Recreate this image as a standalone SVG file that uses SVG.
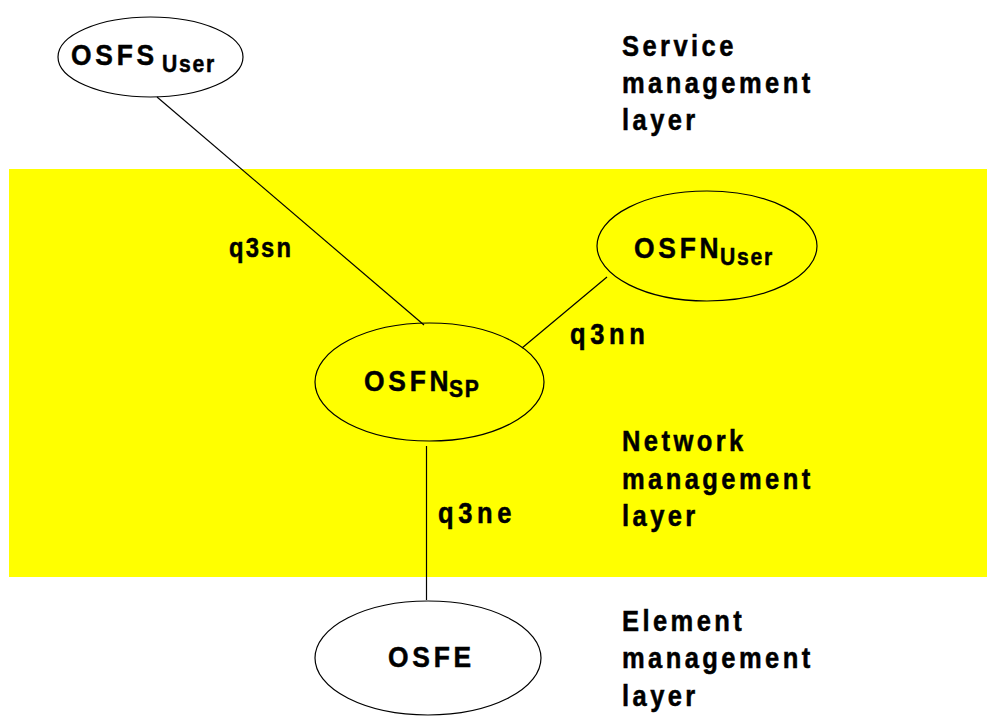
<svg xmlns="http://www.w3.org/2000/svg" width="987" height="718" viewBox="0 0 987 718">
<style>
  .bg { fill: #ffffff; }
  .band { fill: #ffff00; stroke: none; }
  .node { fill: none; stroke: #000; stroke-width: 1.2; }
  .edge { stroke: #000; stroke-width: 1.2; fill: none; }
  text { font-family: "Liberation Sans", Arial, sans-serif; font-weight: bold; fill: #000; stroke: #000; stroke-width: 0.5px; }
  .nm { font-size: 30px; letter-spacing: 4.3px; }
  .sub { font-size: 24px; letter-spacing: 2px; }
  .lbl { font-size: 27px; letter-spacing: 2.5px; }
  .lbl2 { font-size: 29px; letter-spacing: 5.3px; }
  .layer { font-size: 29px; letter-spacing: 3.9px; }
</style>
<rect class="bg" x="0" y="0" width="987" height="718"/>
<rect class="band" x="9" y="169" width="978" height="408"/>

<g id="connectors">
  <line class="edge" x1="157" y1="97" x2="424" y2="325"/>
  <line class="edge" x1="607" y1="277" x2="522" y2="348"/>
  <line class="edge" x1="426.5" y1="446" x2="426.5" y2="600"/>
  <text class="lbl" transform="translate(229,257) scale(0.88,1)">q3sn</text>
  <text class="lbl2" transform="translate(570,344) scale(0.88,1)">q3nn</text>
  <text class="lbl2" transform="translate(438,523) scale(0.88,1)">q3ne</text>
</g>

<g id="node-osfs-user">
  <ellipse class="node" cx="150.5" cy="57" rx="92.5" ry="40"/>
  <text class="nm" transform="translate(71,65) scale(0.88,1)">OSFS</text>
  <text class="sub" transform="translate(162,72) scale(0.88,1)">User</text>
</g>

<g id="node-osfn-user">
  <ellipse class="node" cx="707" cy="246" rx="110" ry="55"/>
  <text class="nm" transform="translate(634,258) scale(0.88,1)">OSFN</text>
  <text class="sub" transform="translate(720,265) scale(0.88,1)">User</text>
</g>

<g id="node-osfn-sp">
  <ellipse class="node" cx="429.5" cy="382" rx="114.5" ry="59"/>
  <text class="nm" transform="translate(364,391) scale(0.88,1)">OSFN</text>
  <text class="sub" transform="translate(449,397) scale(0.88,1)">SP</text>
</g>

<g id="node-osfe">
  <ellipse class="node" cx="428" cy="658" rx="113" ry="57"/>
  <text class="nm" transform="translate(388,667) scale(0.88,1)">OSFE</text>
</g>

<g id="layer-labels">
  <text class="layer" transform="translate(622,56) scale(0.88,1)">Service</text>
  <text class="layer" transform="translate(622,93) scale(0.88,1)">management</text>
  <text class="layer" transform="translate(622,130) scale(0.88,1)">layer</text>
  <text class="layer" transform="translate(622,451) scale(0.88,1)">Network</text>
  <text class="layer" transform="translate(622,489) scale(0.88,1)">management</text>
  <text class="layer" transform="translate(622,526) scale(0.88,1)">layer</text>
  <text class="layer" transform="translate(622,631) scale(0.88,1)">Element</text>
  <text class="layer" transform="translate(622,668) scale(0.88,1)">management</text>
  <text class="layer" transform="translate(622,706) scale(0.88,1)">layer</text>
</g>
</svg>
